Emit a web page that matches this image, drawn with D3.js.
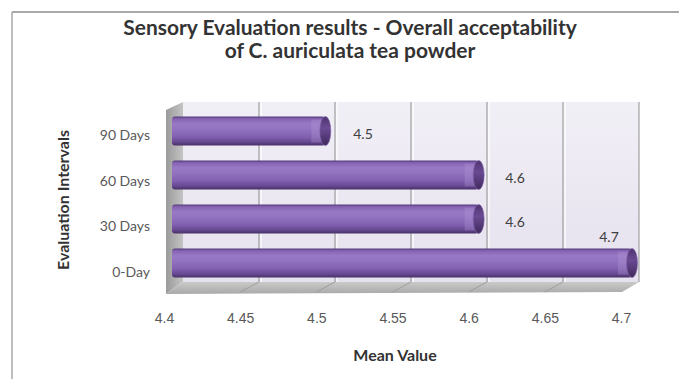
<!DOCTYPE html>
<html><head><meta charset="utf-8">
<script src="https://cdn.jsdelivr.net/npm/d3@7"></script>
<style>
html,body{margin:0;padding:0;background:#fff;}
svg{display:block;font-family:Lato,"Open Sans","DejaVu Sans",sans-serif;}
</style></head>
<body><svg id="c" width="679" height="379"></svg>
<script>
const categories = ["90 Days", "60 Days", "30 Days", "0-Day"];
const meanValues = [4.5, 4.6, 4.6, 4.7];
const tickValues = [4.4, 4.45, 4.5, 4.55, 4.6, 4.65, 4.7];
const titleLines = ["Sensory Evaluation results - Overall acceptability", "of C. auriculata tea powder"];
const xTitle = "Mean Value";
const yTitle = "Evaluation Intervals";

const svg = d3.select("#c");
const defs = svg.append("defs");

// scales
const domain = [4.4, 4.7];
const xBack = d3.scaleLinear().domain(domain).range([183, 639]);   // back wall plane
const xBar = d3.scaleLinear().domain(domain).range([172, 632]);    // bar plane
const xTick = d3.scaleLinear().domain(domain).range([164, 621]);   // front/floor plane (labels)
const yBar = d3.scalePoint().domain(categories).range([109, 285]).padding(0.5);
const yLab = d3.scalePoint().domain(categories).range([112.2, 295]).padding(0.5);
const wallTop = 102, floorBack = 282, floorFront = 292, depthX = 17, depthY = 8;

// outer frame
svg.append("line").attr("x1", 12).attr("x2", 679).attr("y1", 12).attr("y2", 12).attr("stroke", "#8c8c8c").attr("stroke-width", 1.5);
svg.append("line").attr("x1", 12).attr("x2", 12).attr("y1", 12).attr("y2", 379).attr("stroke", "#a8a8a8").attr("stroke-width", 1.5);

// gradients
const gWall = defs.append("linearGradient").attr("id", "gWall").attr("x1", 0).attr("y1", 0).attr("x2", 0).attr("y2", 1);
gWall.append("stop").attr("offset", "0%").attr("stop-color", "#f1eff6");
gWall.append("stop").attr("offset", "100%").attr("stop-color", "#e6e1ee");
const gSide = defs.append("linearGradient").attr("id", "gSide").attr("x1", 0).attr("y1", 0).attr("x2", 1).attr("y2", 0);
gSide.append("stop").attr("offset", "0%").attr("stop-color", "#9a9a9a");
gSide.append("stop").attr("offset", "100%").attr("stop-color", "#c4c4c4");
const gFloor = defs.append("linearGradient").attr("id", "gFloor").attr("x1", 0).attr("y1", 0).attr("x2", 0).attr("y2", 1);
gFloor.append("stop").attr("offset", "0%").attr("stop-color", "#c9c9c9");
gFloor.append("stop").attr("offset", "100%").attr("stop-color", "#a9a9a9");
const gBar = defs.append("linearGradient").attr("id", "gBar").attr("x1", 0).attr("y1", 0).attr("x2", 0).attr("y2", 1);
[["0%", "#553a7a"], ["8%", "#8663b3"], ["25%", "#9879c5"], ["45%", "#9072c0"], ["70%", "#8160b0"], ["88%", "#664892"], ["100%", "#483066"]]
  .forEach(s => gBar.append("stop").attr("offset", s[0]).attr("stop-color", s[1]));
const gCap = defs.append("linearGradient").attr("id", "gCap").attr("x1", 0).attr("y1", 0).attr("x2", 0).attr("y2", 1);
[["0%", "#4e346f"], ["40%", "#6a4a93"], ["100%", "#3f2a5c"]]
  .forEach(s => gCap.append("stop").attr("offset", s[0]).attr("stop-color", s[1]));

// back wall
svg.append("rect").attr("x", xBack(4.4)).attr("y", wallTop).attr("width", xBack(4.7) - xBack(4.4)).attr("height", floorBack - wallTop).attr("fill", "url(#gWall)");
// grid lines
svg.append("g").selectAll("line").data(tickValues.slice(1)).join("line")
  .attr("x1", d => xBack(d)).attr("x2", d => xBack(d))
  .attr("y1", wallTop).attr("y2", floorBack)
  .attr("stroke", "#8f8f8f").attr("stroke-width", 1);
svg.append("g").selectAll("line").data(tickValues.slice(1, -1)).join("line")
  .attr("x1", d => xBack(d) + 2).attr("x2", d => xBack(d) + 2)
  .attr("y1", wallTop).attr("y2", floorBack)
  .attr("stroke", "#ffffff").attr("stroke-width", 1.5).attr("opacity", 0.8);

// left side wall
svg.append("polygon")
  .attr("points", [[xBack(4.4), wallTop], [xBack(4.4), floorBack], [xBack(4.4) - depthX, floorFront + 2], [xBack(4.4) - depthX, wallTop + depthY]].map(p => p.join(",")).join(" "))
  .attr("fill", "url(#gSide)");
// floor
svg.append("polygon")
  .attr("points", [[xBack(4.4), floorBack], [xBack(4.7), floorBack], [xBack(4.7) - depthX, floorFront], [xBack(4.4) - depthX, floorFront + 2]].map(p => p.join(",")).join(" "))
  .attr("fill", "url(#gFloor)");
svg.append("g").selectAll("line").data(tickValues.slice(1, -1)).join("line")
  .attr("x1", d => xBack(d)).attr("y1", floorBack)
  .attr("x2", d => xTick(d)).attr("y2", floorFront)
  .attr("stroke", "#9d9d9d").attr("stroke-width", 1);

// bars (cylinders)
const barH = 29, capRx = 5.5;
const bars = svg.append("g").selectAll("g").data(categories.map((c, i) => ({c, v: meanValues[i]}))).join("g");
bars.append("rect")
  .attr("x", xBar(4.4)).attr("y", d => yBar(d.c) - barH / 2)
  .attr("width", d => xBar(d.v) - xBar(4.4)).attr("height", barH)
  .attr("rx", 3)
  .attr("fill", "url(#gBar)");
bars.append("rect")
  .attr("x", d => xBar(d.v) - 14).attr("y", d => yBar(d.c) - barH / 2 + 3)
  .attr("width", 10).attr("height", barH - 6)
  .attr("fill", "#b59ad8").attr("opacity", 0.3);
bars.append("ellipse")
  .attr("cx", d => xBar(d.v)).attr("cy", d => yBar(d.c))
  .attr("rx", capRx).attr("ry", barH / 2)
  .attr("fill", "url(#gCap)").attr("stroke", "#7d5fa8").attr("stroke-width", 0.6);

// value labels
const maxV = d3.max(meanValues);
bars.append("text")
  .attr("x", d => d.v === maxV ? xBack(d.v) - 30 : xBack(d.v) + 28)
  .attr("y", d => d.v === maxV ? yBar(d.c) - 26 : yBar(d.c) + 3)
  .attr("dy", "0.35em").attr("text-anchor", "middle")
  .attr("font-size", 14).attr("fill", "#404040")
  .text(d => d.v.toFixed(1));

// category labels
svg.append("g").selectAll("text").data(categories).join("text")
  .attr("x", 150).attr("y", d => yLab(d)).attr("dy", "0.35em")
  .attr("text-anchor", "end").attr("font-size", 14).attr("fill", "#595959")
  .text(d => d);

// x axis tick labels
const xAxis = d3.axisBottom(xTick).tickValues(tickValues).tickSize(0).tickPadding(0)
  .tickFormat(d => String(+d.toFixed(2)));
const ax = svg.append("g").attr("transform", "translate(0,313)").call(xAxis);
ax.select(".domain").remove();
ax.selectAll("text").attr("font-size", 14).attr("fill", "#595959").attr("font-family", null);

// axis titles
const xt = svg.append("text").attr("x", 395).attr("y", 355).attr("dy", "0.35em").attr("text-anchor", "middle")
  .attr("font-size", 15).attr("font-weight", "bold").attr("fill", "#333").text(xTitle);
const yt = svg.append("text").attr("transform", "translate(63,200) rotate(-90)").attr("dy", "0.35em").attr("text-anchor", "middle")
  .attr("font-size", 15).attr("font-weight", "bold").attr("fill", "#333").text(yTitle);
// fit axis titles to reference lengths
yt.attr("font-size", Math.min(16, 15 * 140 / yt.node().getComputedTextLength()));
xt.attr("font-size", Math.min(16, 15 * 84 / xt.node().getComputedTextLength()));

// title
const tg = svg.append("g");
tg.selectAll("text").data(titleLines).join("text")
  .attr("x", 350).attr("y", (d, i) => 28 + i * 23).attr("dy", "0.35em")
  .attr("text-anchor", "middle").attr("font-size", 15.5).attr("font-weight", "bold").attr("fill", "#333")
  .text(d => d);
// fit first title line to the reference width
const t0 = tg.select("text").node();
const fs = 15.5 * 454 / t0.getComputedTextLength();
tg.selectAll("text").attr("font-size", fs);
</script></body></html>
